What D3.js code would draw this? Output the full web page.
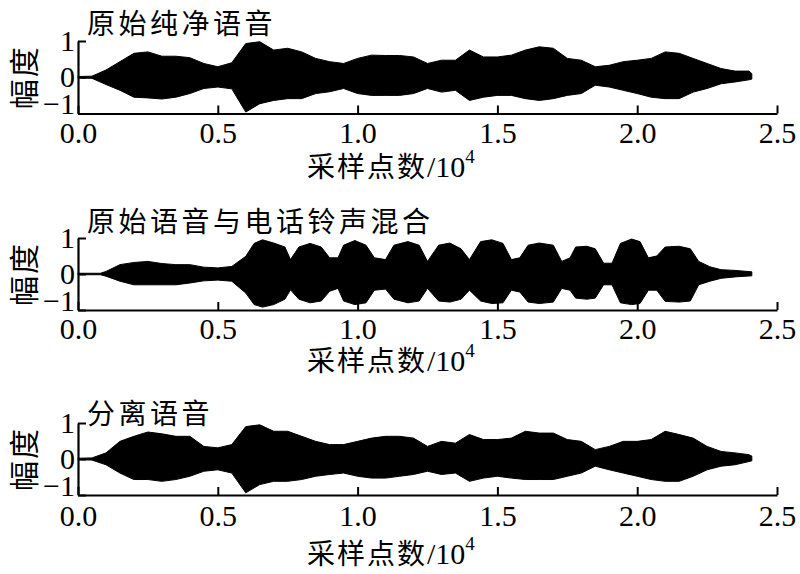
<!DOCTYPE html>
<html>
<head>
<meta charset="utf-8">
<script src="https://cdn.jsdelivr.net/npm/d3@7"></script>
<style>
  html, body { margin: 0; padding: 0; background: #fff; }
  svg { display: block; }
</style>
</head>
<body>
<svg id="chart" width="800" height="574"></svg>
<script>
// ---------- DATA (sample index in units of 10^4, amplitude envelope) ----------
const panelTitles = ["原始纯净语音", "原始语音与电话铃声混合", "分离语音"];
const xTicks = [0.0, 0.5, 1.0, 1.5, 2.0, 2.5];
const yTicks = [-1, 0, 1];
const yLabel = "幅度";
const xLabelCJK = "采样点数";

// Panel 1: clean speech envelope
const cleanX  = [0,0.05,0.1,0.15,0.2,0.25,0.3,0.35,0.4,0.45,0.5,0.55,0.6,0.65,0.7,0.75,0.8,0.85,0.9,0.95,1.0,1.05,1.1,1.15,1.2,1.25,1.3,1.35,1.4,1.45,1.5,1.55,1.6,1.65,1.7,1.75,1.8,1.85,1.9,1.95,2.0,2.05,2.1,2.15,2.2,2.25,2.3,2.35,2.4,2.41];
const cleanHi = [0.02,0.03,0.2,0.43,0.66,0.7,0.58,0.58,0.54,0.38,0.29,0.4,0.93,0.98,0.75,0.8,0.7,0.52,0.43,0.38,0.52,0.61,0.6,0.6,0.56,0.38,0.47,0.47,0.75,0.56,0.56,0.61,0.75,0.84,0.8,0.52,0.47,0.29,0.33,0.43,0.47,0.52,0.7,0.66,0.52,0.38,0.24,0.17,0.17,0.1];
const cleanLo = [-0.02,-0.03,-0.2,-0.36,-0.55,-0.57,-0.6,-0.55,-0.45,-0.31,-0.27,-0.32,-0.96,-0.73,-0.64,-0.59,-0.59,-0.45,-0.4,-0.31,-0.45,-0.5,-0.5,-0.5,-0.45,-0.31,-0.41,-0.36,-0.64,-0.55,-0.5,-0.5,-0.59,-0.64,-0.59,-0.5,-0.45,-0.22,-0.27,-0.36,-0.45,-0.55,-0.59,-0.59,-0.41,-0.31,-0.18,-0.13,-0.07,-0.05];

// Panel 2: speech mixed with phone ring envelope
const mixX  = [0,0.08,0.1,0.15,0.2,0.25,0.3,0.35,0.4,0.45,0.5,0.55,0.6,0.63,0.66,0.7,0.74,0.76,0.79,0.83,0.87,0.9,0.93,0.95,0.99,1.03,1.06,1.1,1.13,1.18,1.22,1.25,1.29,1.33,1.37,1.4,1.44,1.48,1.52,1.55,1.58,1.61,1.65,1.7,1.73,1.76,1.78,1.82,1.85,1.88,1.91,1.94,1.98,2.01,2.04,2.07,2.1,2.15,2.19,2.22,2.26,2.3,2.35,2.41];
const mixHi = [0.02,0.02,0.07,0.26,0.32,0.35,0.29,0.26,0.26,0.19,0.17,0.21,0.49,0.85,0.95,0.86,0.75,0.4,0.75,0.85,0.75,0.45,0.45,0.8,0.93,0.8,0.45,0.4,0.8,0.9,0.8,0.35,0.8,0.86,0.7,0.4,0.9,0.95,0.85,0.4,0.45,0.8,0.86,0.8,0.35,0.45,0.75,0.77,0.7,0.3,0.3,0.85,0.97,0.9,0.45,0.5,0.75,0.77,0.7,0.35,0.2,0.12,0.1,0.06];
const mixLo = [-0.02,-0.02,-0.06,-0.2,-0.3,-0.3,-0.3,-0.3,-0.25,-0.19,-0.17,-0.2,-0.53,-0.85,-0.92,-0.85,-0.7,-0.44,-0.7,-0.8,-0.75,-0.48,-0.4,-0.75,-0.85,-0.8,-0.45,-0.42,-0.7,-0.8,-0.75,-0.4,-0.75,-0.78,-0.7,-0.45,-0.75,-0.82,-0.8,-0.45,-0.5,-0.78,-0.82,-0.78,-0.4,-0.45,-0.67,-0.7,-0.67,-0.3,-0.3,-0.8,-0.85,-0.82,-0.45,-0.45,-0.76,-0.78,-0.75,-0.3,-0.2,-0.12,-0.08,-0.05];

// Panel 3: separated speech envelope
const sepX  = cleanX;
const sepHi = [0.02,0.03,0.17,0.49,0.63,0.75,0.7,0.63,0.63,0.35,0.31,0.4,0.9,0.95,0.77,0.77,0.63,0.49,0.4,0.4,0.49,0.58,0.63,0.63,0.58,0.35,0.49,0.44,0.68,0.54,0.54,0.58,0.77,0.72,0.72,0.54,0.49,0.26,0.35,0.49,0.49,0.54,0.77,0.68,0.58,0.35,0.21,0.17,0.12,0.08];
const sepLo = [-0.02,-0.03,-0.16,-0.39,-0.57,-0.57,-0.62,-0.57,-0.48,-0.34,-0.3,-0.39,-0.94,-0.71,-0.62,-0.62,-0.57,-0.48,-0.43,-0.39,-0.48,-0.53,-0.53,-0.48,-0.43,-0.34,-0.43,-0.39,-0.62,-0.53,-0.48,-0.53,-0.57,-0.57,-0.57,-0.48,-0.39,-0.2,-0.3,-0.39,-0.48,-0.57,-0.62,-0.62,-0.48,-0.3,-0.2,-0.16,-0.07,-0.05];

const seriesX  = [cleanX, mixX, sepX];
const seriesHi = [cleanHi, mixHi, sepHi];
const seriesLo = [cleanLo, mixLo, sepLo];

// ---------- LAYOUT ----------
const left = 78, right = 777;
const panelTop = [41, 238, 423];       // pixel y of amplitude +1
const panelBottom = [113.5, 310, 495]; // pixel y of amplitude -1 (x axis)
const titleY = [24, 222, 414];
const tickLabelY = [132, 328, 515];
const axisTitleY = [167, 361, 554];

const svg = d3.select("#chart");
const x = d3.scaleLinear().domain([0, 2.5]).range([left, right]);

const serif = "'Liberation Serif','Times New Roman',serif";
const cjk = "'Noto Sans CJK SC','Noto Sans CJK JP',sans-serif";

for (let p = 0; p < 3; p++) {
  const y = d3.scaleLinear().domain([-1, 1]).range([panelBottom[p], panelTop[p]]);
  const g = svg.append("g");

  const pts = seriesX[p].map((v, i) => ({ v, hi: seriesHi[p][i], lo: seriesLo[p][i] }));
  const area = d3.area()
    .x(d => x(d.v))
    .y0(d => y(d.lo))
    .y1(d => y(d.hi));
  g.append("path").datum(pts).attr("d", area)
    .attr("fill", "#000").attr("stroke", "#000").attr("stroke-width", 1);

  // x axis
  const xa = g.append("g").attr("transform", `translate(0,${panelBottom[p]})`)
    .call(d3.axisBottom(x).tickValues(xTicks).tickFormat(d3.format(".1f"))
      .tickSizeInner(-8).tickSizeOuter(0).tickPadding(0));
  xa.select(".domain").attr("stroke-width", 2.2);
  xa.selectAll(".tick line").attr("stroke-width", 2);
  xa.selectAll(".tick text").attr("y", tickLabelY[p] - panelBottom[p]).attr("dy", "0.35em")
    .attr("font-family", serif).attr("font-size", 30).attr("fill", "#000");

  // y axis
  const ya = g.append("g").attr("transform", `translate(${left},0)`)
    .call(d3.axisLeft(y).tickValues(yTicks).tickFormat(d3.format("d"))
      .tickSizeInner(-8).tickSizeOuter(0).tickPadding(4));
  ya.select(".domain").attr("stroke-width", 2.2);
  ya.selectAll(".tick line").attr("stroke-width", 2);
  ya.selectAll(".tick text").attr("x", -3)
    .attr("font-family", serif).attr("font-size", 30).attr("fill", "#000")
    .attr("dy", d => d === -1 ? "0.0em" : "0.32em");

  // panel title
  g.append("text").attr("x", 87).attr("y", titleY[p]).attr("dy", "0.36em")
    .attr("font-family", cjk).attr("font-size", 28).attr("letter-spacing", 3.5)
    .text(panelTitles[p]);

  // y label
  const cy = (panelTop[p] + panelBottom[p]) / 2;
  g.append("text").attr("transform", `translate(24,${cy}) rotate(-90)`)
    .attr("text-anchor", "middle").attr("dy", "0.36em")
    .attr("font-family", cjk).attr("font-size", 30).attr("letter-spacing", 2)
    .text(yLabel);

  // x axis title
  const t = g.append("text").attr("x", 307).attr("y", axisTitleY[p]).attr("dy", "0.36em")
    .attr("font-size", 28);
  t.append("tspan").attr("font-family", cjk).attr("letter-spacing", 2).text(xLabelCJK);
  t.append("tspan").attr("font-family", serif).attr("font-size", 30).text("/10");
  t.append("tspan").attr("font-family", serif).attr("font-size", 19).attr("dy", "-0.75em").text("4");
}
</script>
</body>
</html>
